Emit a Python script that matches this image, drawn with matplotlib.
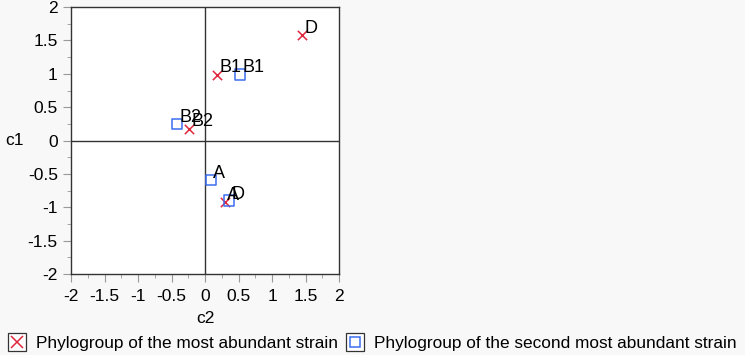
import matplotlib
matplotlib.use("Agg")
import matplotlib.pyplot as plt
from matplotlib.lines import Line2D
from matplotlib.legend_handler import HandlerTuple
from matplotlib.ticker import MultipleLocator

plt.rcParams['font.family'] = ['Liberation Sans', 'DejaVu Sans']

# most abundant strain (red x)
groups_first = ['D', 'B1', 'B2', 'A']
c2_first = [1.45, 0.18, -0.24, 0.30]
c1_first = [1.58, 0.99, 0.18, -0.92]

# second most abundant strain (blue square)
groups_second = ['D', 'B1', 'B2', 'A']
c2_second = [0.36, 0.52, -0.42, 0.09]
c1_second = [-0.90, 0.99, 0.25, -0.59]

ticks = [-2, -1.5, -1, -0.5, 0, 0.5, 1, 1.5, 2]
tick_labels = ['-2', '-1.5', '-1', '-0.5', '0', '0.5', '1', '1.5', '2']

bg = '#f8f8f8'
red = '#e0283c'
blue = '#3c6ef0'

fig = plt.figure(figsize=(7.45, 3.55), dpi=100, facecolor=bg)
ax = fig.add_axes([0.0953, 0.228, 0.36, 0.752])
ax.set_facecolor('white')

ax.axhline(0, color='#333333', lw=1.0, zorder=1)
ax.axvline(0, color='#333333', lw=1.0, zorder=1)

ax.scatter(c2_first, c1_first, marker='x', s=45, color=red, linewidths=1.1, zorder=3)
ax.scatter(c2_second, c1_second, marker='s', s=55, facecolors='none',
           edgecolors=blue, linewidths=1.1, zorder=3)

for g, x, y in zip(groups_first, c2_first, c1_first):
    ax.annotate(g, (x, y), xytext=(1.5, 1.5), textcoords='offset points',
                fontsize=13, color='black', zorder=4)
for g, x, y in zip(groups_second, c2_second, c1_second):
    ax.annotate(g, (x, y), xytext=(1.5, 1.5), textcoords='offset points',
                fontsize=13, color='black', zorder=4)

ax.set_xlim(-2, 2)
ax.set_ylim(-2, 2)
ax.set_xticks(ticks)
ax.set_xticklabels(tick_labels)
ax.set_yticks(ticks)
ax.set_yticklabels(tick_labels)
ax.xaxis.set_minor_locator(MultipleLocator(0.25))
ax.yaxis.set_minor_locator(MultipleLocator(0.25))
ax.tick_params(which='major', length=6, color='#999999', labelsize=12.5, direction='out')
ax.tick_params(axis='x', which='major', pad=5)
ax.tick_params(which='minor', length=3, color='#999999', direction='out')
for s in ax.spines.values():
    s.set_color('#333333')
    s.set_linewidth(1.0)

ax.set_xlabel('c2', fontsize=12.5)
ax.set_ylabel('c1', fontsize=12.5, rotation=0, va='center', ha='center')
ax.xaxis.set_label_coords(0.5, -0.14)
ax.yaxis.set_label_coords(-0.209, 0.5)

box = dict(marker='s', markersize=13, markerfacecolor='white',
           markeredgecolor='#333333', markeredgewidth=0.9, linestyle='none')
h1 = (Line2D([], [], **box),
      Line2D([], [], marker='x', markersize=8, color=red, mew=1.1, linestyle='none'))
h2 = (Line2D([], [], **box),
      Line2D([], [], marker='s', markersize=7.5, markerfacecolor='none',
             markeredgecolor=blue, mew=1.1, linestyle='none'))
fig.legend([h1, h2],
           ['Phylogroup of the most abundant strain',
            'Phylogroup of the second most abundant strain'],
           handler_map={tuple: HandlerTuple(ndivide=1, pad=0)},
           loc='lower left', bbox_to_anchor=(0.003, -0.008), ncol=2, frameon=False,
           fontsize=12.4, handlelength=0.92, handletextpad=0.62, columnspacing=0.55,
           borderaxespad=0.0)

fig.savefig('out.png', dpi=100, facecolor=bg)
